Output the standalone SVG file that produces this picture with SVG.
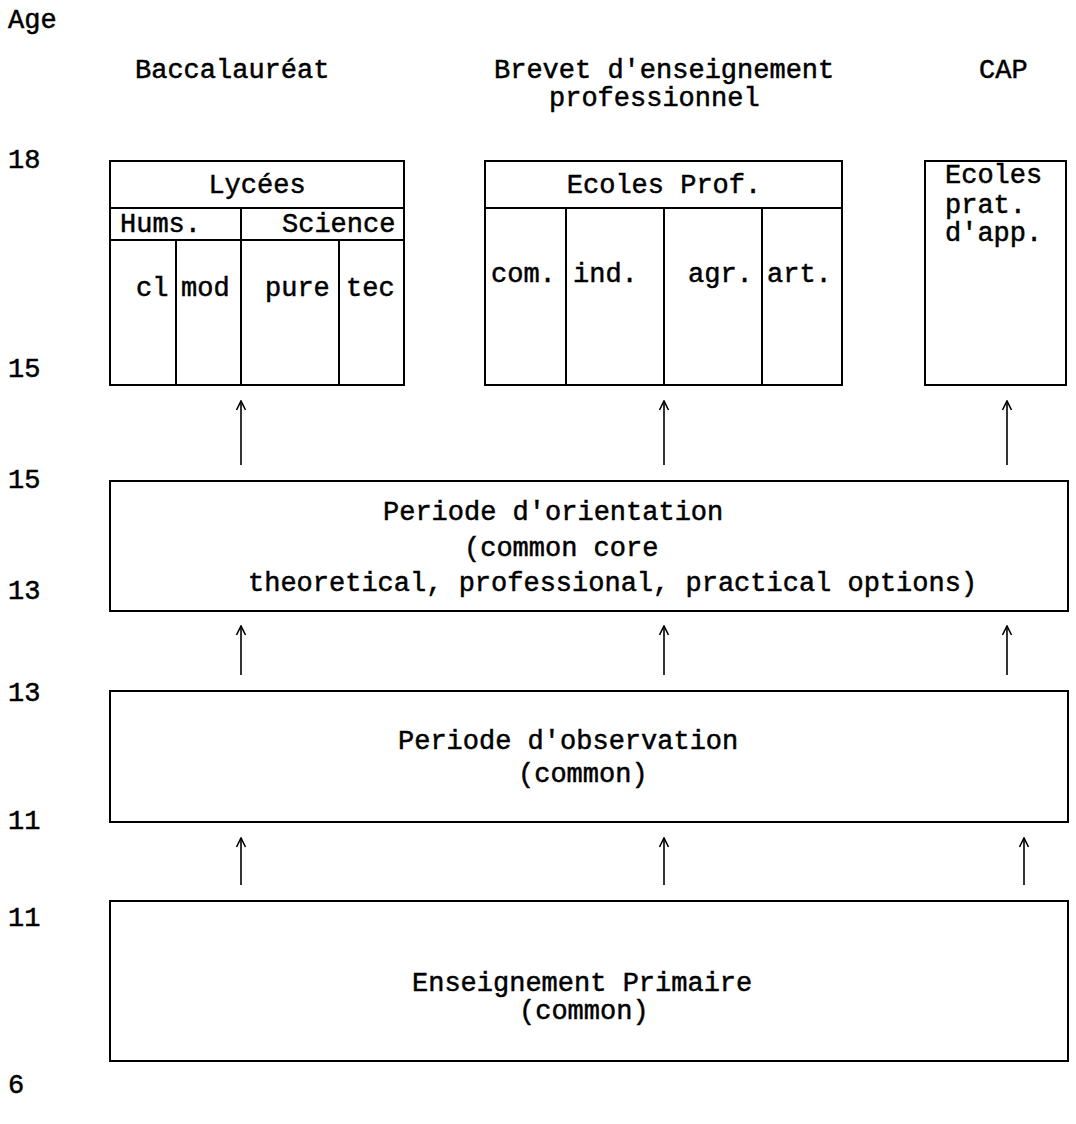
<svg xmlns="http://www.w3.org/2000/svg" width="1076" height="1124" viewBox="0 0 1076 1124">
<style>
text{font-family:"Liberation Mono","Courier New",monospace;font-size:27px;fill:#000;stroke:#000;stroke-width:0.5}
.box{fill:none;stroke:#000;stroke-width:2}
.ln{stroke:#000;stroke-width:2}
.arr{stroke:#000;stroke-width:1.6;fill:none;marker-end:url(#ah)}
.c{text-anchor:middle}
</style>
<defs>
<marker id="ah" viewBox="0 0 12 12" refX="11" refY="6" markerWidth="12" markerHeight="12" markerUnits="userSpaceOnUse" orient="auto">
<path d="M2,1.5 L11,6 L2,10.5" fill="none" stroke="#000" stroke-width="1.6"/>
</marker>
</defs>
<rect width="1076" height="1124" fill="#fff"/>
<g id="age-axis">
<text x="8" y="28">Age</text>
<text x="8" y="168">18</text>
<text x="8" y="377">15</text>
<text x="8" y="488">15</text>
<text x="8" y="599">13</text>
<text x="8" y="701">13</text>
<text x="8" y="829">11</text>
<text x="8" y="926">11</text>
<text x="8" y="1093">6</text>
</g>
<g id="qualifications">
<text x="135" y="78">Baccalauréat</text>
<text x="494" y="78">Brevet d'enseignement</text>
<text x="549" y="106">professionnel</text>
<text x="979" y="78">CAP</text>
</g>
<g id="lycees">
<rect class="box" x="110" y="161" width="294" height="224"/>
<line class="ln" x1="110" y1="208" x2="404" y2="208"/>
<line class="ln" x1="110" y1="240" x2="404" y2="240"/>
<line class="ln" x1="241" y1="208" x2="241" y2="385"/>
<line class="ln" x1="176" y1="240" x2="176" y2="385"/>
<line class="ln" x1="339" y1="240" x2="339" y2="385"/>
<text class="c" x="257" y="193">Lycées</text>
<text x="120" y="232">Hums.</text>
<text x="282" y="232">Science</text>
<text x="136" y="296">cl</text>
<text x="181" y="296">mod</text>
<text x="265" y="296">pure</text>
<text x="346" y="296">tec</text>
</g>
<g id="ecoles-prof">
<rect class="box" x="485" y="161" width="357" height="224"/>
<line class="ln" x1="485" y1="208" x2="842" y2="208"/>
<line class="ln" x1="566" y1="208" x2="566" y2="385"/>
<line class="ln" x1="664" y1="208" x2="664" y2="385"/>
<line class="ln" x1="762" y1="208" x2="762" y2="385"/>
<text class="c" x="664" y="193">Ecoles Prof.</text>
<text x="491" y="282">com.</text>
<text x="573" y="282">ind.</text>
<text x="688" y="282">agr.</text>
<text x="767" y="282">art.</text>
</g>
<g id="ecoles-prat">
<rect class="box" x="925" y="161" width="141" height="224"/>
<text x="945" y="183">Ecoles</text>
<text x="945" y="213">prat.</text>
<text x="945" y="241">d'app.</text>
</g>
<g id="orientation">
<rect class="box" x="110" y="481" width="958" height="130"/>
<text x="383" y="520">Periode d'orientation</text>
<text x="464" y="556">(common core</text>
<text x="248" y="591">theoretical, professional, practical options)</text>
</g>
<g id="observation">
<rect class="box" x="110" y="691" width="958" height="131"/>
<text x="398" y="749">Periode d'observation</text>
<text x="518" y="782">(common)</text>
</g>
<g id="primaire">
<rect class="box" x="110" y="901" width="958" height="160"/>
<text x="412" y="991">Enseignement Primaire</text>
<text x="519" y="1019">(common)</text>
</g>
<g id="connectors">
<line class="arr" x1="241" y1="465" x2="241" y2="401"/>
<line class="arr" x1="664" y1="465" x2="664" y2="401"/>
<line class="arr" x1="1007" y1="465" x2="1007" y2="401"/>
<line class="arr" x1="241" y1="675" x2="241" y2="626"/>
<line class="arr" x1="664" y1="675" x2="664" y2="626"/>
<line class="arr" x1="1007" y1="675" x2="1007" y2="626"/>
<line class="arr" x1="241" y1="885" x2="241" y2="838"/>
<line class="arr" x1="664" y1="885" x2="664" y2="838"/>
<line class="arr" x1="1024" y1="885" x2="1024" y2="838"/>
</g>
</svg>
